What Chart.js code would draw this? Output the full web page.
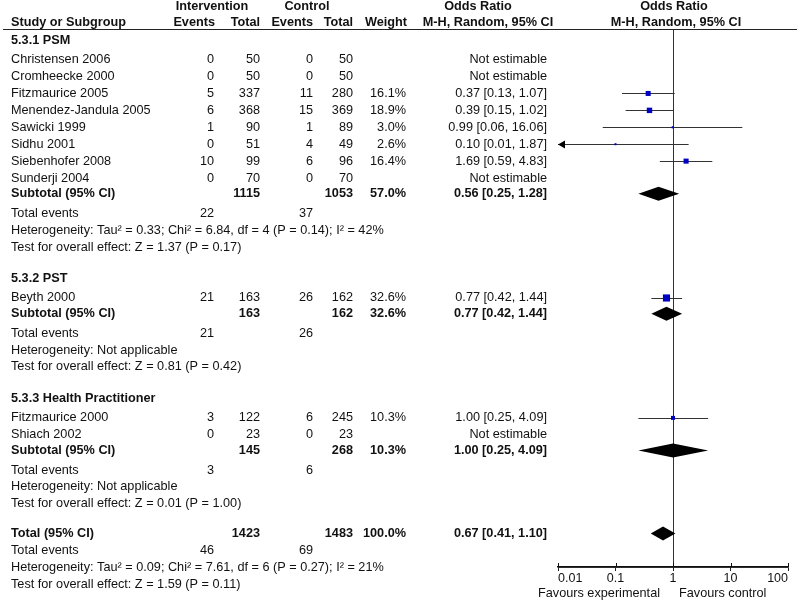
<!DOCTYPE html>
<html>
<head>
<meta charset="utf-8">
<script src="https://cdn.jsdelivr.net/npm/chart.js@4/dist/chart.umd.min.js"></script>
<style>
  html, body { margin: 0; padding: 0; background: #fff; }
  #wrap { width: 800px; height: 600px; }
</style>
</head>
<body>
<div id="wrap"><canvas id="forest" width="800" height="600"></canvas></div>
<script>
// --- dados dos estudos ---
const groupNames = ['5.3.1 PSM', '5.3.2 PST', '5.3.3 Health Practitioner'];
const studyNames = ['Christensen 2006', 'Cromheecke 2000', 'Fitzmaurice 2005', 'Menendez-Jandula 2005',
  'Sawicki 1999', 'Sidhu 2001', 'Siebenhofer 2008', 'Sunderji 2004', 'Beyth 2000',
  'Fitzmaurice 2000', 'Shiach 2002'];
const studyGroup = [0, 0, 0, 0, 0, 0, 0, 0, 1, 2, 2];
const expEvents = [0, 0, 5, 6, 1, 0, 10, 0, 21, 3, 0];
const expTotal = [50, 50, 337, 368, 90, 51, 99, 70, 163, 122, 23];
const ctlEvents = [0, 0, 11, 15, 1, 4, 6, 0, 26, 6, 0];
const ctlTotal = [50, 50, 280, 369, 89, 49, 96, 70, 162, 245, 23];
const weights = [null, null, 16.1, 18.9, 3.0, 2.6, 16.4, null, 32.6, 10.3, null];
const orEst = [null, null, 0.37, 0.39, 0.99, 0.10, 1.69, null, 0.77, 1.00, null];
const orLow = [null, null, 0.13, 0.15, 0.06, 0.01, 0.59, null, 0.42, 0.25, null];
const orHigh = [null, null, 1.07, 1.02, 16.06, 1.87, 4.83, null, 1.44, 4.09, null];

// --- subtotais ---
const subExpTotal = [1115, 163, 145];
const subCtlTotal = [1053, 162, 268];
const subExpEvents = [22, 21, 3];
const subCtlEvents = [37, 26, 6];
const subWeight = [57.0, 32.6, 10.3];
const subEst = [0.56, 0.77, 1.00];
const subLow = [0.25, 0.42, 0.25];
const subHigh = [1.28, 1.44, 4.09];
const subHet = ['Tau² = 0.33; Chi² = 6.84, df = 4 (P = 0.14); I² = 42%', 'Not applicable', 'Not applicable'];
const subTest = ['Z = 1.37 (P = 0.17)', 'Z = 0.81 (P = 0.42)', 'Z = 0.01 (P = 1.00)'];

// --- total geral ---
const totalCounts = [1423, 1483];
const totalEvents = [46, 69];
const totalWeight = 100.0;
const totalOR = [0.67, 0.41, 1.10];
const totalHet = 'Tau² = 0.09; Chi² = 7.61, df = 6 (P = 0.27); I² = 21%';
const totalTest = 'Z = 1.59 (P = 0.11)';

const tickValues = [0.01, 0.1, 1, 10, 100];
const favourLabels = ['Favours experimental', 'Favours control'];

// --- monta as linhas da tabela (posição em "linhas") ---
const rows = [];
let cursor = 0;
function addRow(kind, gap, extra) {
  cursor += gap;
  rows.push(Object.assign({ kind: kind, y: cursor }, extra));
}
groupNames.forEach((g, gi) => {
  addRow('group', gi === 0 ? 0 : 1.85, { label: g });
  studyNames.forEach((s, i) => {
    if (studyGroup[i] !== gi) return;
    const first = !rows.some(r => r.kind === 'study' && studyGroup[r.i] === gi);
    addRow('study', first ? 1.16 : 1.0, { i: i });
  });
  addRow('subtotal', 0.93, {
    label: 'Subtotal (95% CI)', nE: subExpTotal[gi], nC: subCtlTotal[gi], w: subWeight[gi],
    est: subEst[gi], lo: subLow[gi], hi: subHigh[gi]
  });
  addRow('events', 1.15, { e: subExpEvents[gi], c: subCtlEvents[gi] });
  addRow('text', 1, { label: 'Heterogeneity: ' + subHet[gi] });
  addRow('text', 1, { label: 'Test for overall effect: ' + subTest[gi] });
});
addRow('subtotal', 1.75, {
  label: 'Total (95% CI)', nE: totalCounts[0], nC: totalCounts[1], w: totalWeight,
  est: totalOR[0], lo: totalOR[1], hi: totalOR[2]
});
addRow('events', 1.0, { e: totalEvents[0], c: totalEvents[1] });
addRow('text', 1, { label: 'Heterogeneity: ' + totalHet });
addRow('text', 1, { label: 'Test for overall effect: ' + totalTest });

const studyRowY = {};
rows.forEach(r => { if (r.kind === 'study') studyRowY[r.i] = r.y; });

// pontos (quadrados) só dos estudos estimáveis
const points = [];
const radii = [];
studyNames.forEach((s, i) => {
  if (orEst[i] === null) return;
  points.push({ x: orEst[i], y: studyRowY[i] });
  radii.push(1.25 * Math.sqrt(weights[i]) / Math.SQRT2);
});

const FONT = '"Liberation Sans", Arial, sans-serif';
const SIZE = 12.7;
const fmt2 = v => v.toFixed(2);
const orText = (e, l, h) => `${fmt2(e)} [${fmt2(l)}, ${fmt2(h)}]`;

// colunas da tabela (borda direita dos números)
const COL = { label: 11, eE: 214, eT: 260, cE: 313, cT: 353, w: 406, or: 547 };

const forestPlugin = {
  id: 'forest',
  beforeDatasetsDraw(chart) {
    const { ctx, chartArea, scales } = chart;
    const xs = scales.x, ys = scales.y;
    ctx.save();
    // linha vertical de nenhum efeito
    const x1 = Math.round(xs.getPixelForValue(1)) + 0.5;
    ctx.strokeStyle = '#333';
    ctx.lineWidth = 1;
    ctx.beginPath();
    ctx.moveTo(x1, chartArea.top);
    ctx.lineTo(x1, chartArea.bottom);
    ctx.stroke();

    // intervalos de confiança
    ctx.strokeStyle = '#333';
    studyNames.forEach((s, i) => {
      if (orEst[i] === null) return;
      const y = Math.round(ys.getPixelForValue(studyRowY[i])) + 0.5;
      const clipped = orLow[i] <= xs.min;
      const a = xs.getPixelForValue(Math.max(orLow[i], xs.min));
      const b = xs.getPixelForValue(Math.min(orHigh[i], xs.max));
      ctx.beginPath();
      ctx.moveTo(a, y);
      ctx.lineTo(b, y);
      ctx.stroke();
      if (clipped) {
        ctx.fillStyle = '#000';
        ctx.beginPath();
        ctx.moveTo(a, y);
        ctx.lineTo(a + 7, y - 4);
        ctx.lineTo(a + 7, y + 4);
        ctx.closePath();
        ctx.fill();
      }
    });

    // losangos dos subtotais
    ctx.fillStyle = '#000';
    rows.forEach(r => {
      if (r.kind !== 'subtotal') return;
      const y = ys.getPixelForValue(r.y);
      const a = xs.getPixelForValue(r.lo), m = xs.getPixelForValue(r.est), b = xs.getPixelForValue(r.hi);
      ctx.beginPath();
      ctx.moveTo(a, y);
      ctx.lineTo(m, y - 7);
      ctx.lineTo(b, y);
      ctx.lineTo(m, y + 7);
      ctx.closePath();
      ctx.fill();
    });
    ctx.restore();
  },
  afterDraw(chart) {
    const { ctx, chartArea, scales } = chart;
    const xs = scales.x, ys = scales.y;
    ctx.save();
    ctx.fillStyle = '#111';
    ctx.textBaseline = 'middle';
    const put = (t, x, y, align, bold) => {
      ctx.font = `${bold ? 'bold ' : ''}${SIZE}px ${FONT}`;
      ctx.textAlign = align;
      ctx.fillText(t, x, y);
    };
    const xMid = xs.getPixelForValue(1);

    // cabeçalho
    put('Intervention', 212, 6, 'center', true);
    put('Control', 307, 6, 'center', true);
    put('Odds Ratio', 478, 6, 'center', true);
    put('Odds Ratio', xMid + 1, 6, 'center', true);
    put('Study or Subgroup', COL.label, 22, 'left', true);
    put('Events', COL.eE + 1, 22, 'right', true);
    put('Total', COL.eT, 22, 'right', true);
    put('Events', COL.cE, 22, 'right', true);
    put('Total', COL.cT, 22, 'right', true);
    put('Weight', COL.w + 1, 22, 'right', true);
    put('M-H, Random, 95% CI', 488, 22, 'center', true);
    put('M-H, Random, 95% CI', xMid + 3, 22, 'center', true);

    ctx.strokeStyle = '#222';
    ctx.lineWidth = 1.2;
    ctx.beginPath();
    ctx.moveTo(3, 29.5);
    ctx.lineTo(797, 29.5);
    ctx.stroke();

    // linhas da tabela
    rows.forEach(r => {
      const y = ys.getPixelForValue(r.y);
      if (r.kind === 'group') {
        put(r.label, COL.label, y, 'left', true);
      } else if (r.kind === 'study') {
        const i = r.i;
        put(studyNames[i], COL.label, y, 'left', false);
        put(String(expEvents[i]), COL.eE, y, 'right', false);
        put(String(expTotal[i]), COL.eT, y, 'right', false);
        put(String(ctlEvents[i]), COL.cE, y, 'right', false);
        put(String(ctlTotal[i]), COL.cT, y, 'right', false);
        if (weights[i] !== null) put(weights[i].toFixed(1) + '%', COL.w, y, 'right', false);
        put(orEst[i] === null ? 'Not estimable' : orText(orEst[i], orLow[i], orHigh[i]), COL.or, y, 'right', false);
      } else if (r.kind === 'subtotal') {
        put(r.label, COL.label, y, 'left', true);
        put(String(r.nE), COL.eT, y, 'right', true);
        put(String(r.nC), COL.cT, y, 'right', true);
        put(r.w.toFixed(1) + '%', COL.w, y, 'right', true);
        put(orText(r.est, r.lo, r.hi), COL.or, y, 'right', true);
      } else if (r.kind === 'events') {
        put('Total events', COL.label, y, 'left', false);
        put(String(r.e), COL.eE, y, 'right', false);
        put(String(r.c), COL.cE, y, 'right', false);
      } else {
        put(r.label, COL.label, y, 'left', false);
      }
    });

    // eixo x: linha e ticks para cima (o Chart.js só desenha para baixo)
    const yAxis = chartArea.bottom;
    ctx.strokeStyle = '#111';
    ctx.lineWidth = 1.5;
    ctx.beginPath();
    ctx.moveTo(chartArea.left, yAxis);
    ctx.lineTo(chartArea.right, yAxis);
    ctx.stroke();
    ctx.lineWidth = 1;
    xs.ticks.forEach((t, k) => {
      const px = Math.round(xs.getPixelForTick(k)) + 0.5;
      ctx.beginPath();
      ctx.moveTo(px, yAxis);
      ctx.lineTo(px, yAxis - 4);
      ctx.stroke();
    });

    // rótulos "Favours"
    put(favourLabels[0], xMid - 13, 593, 'right', false);
    put(favourLabels[1], xMid + 6, 593, 'left', false);
    ctx.restore();
  }
};

const ROW_PX = 16.9;
const TOP = 29, BOTTOM = 566.5, FIRST_ROW = 40;
const yMin = -(FIRST_ROW - TOP) / ROW_PX;
const yMax = yMin + (BOTTOM - TOP) / ROW_PX;

new Chart(document.getElementById('forest'), {
  type: 'scatter',
  data: {
    datasets: [{
      data: points,
      pointStyle: 'rect',
      pointRadius: radii,
      pointHoverRadius: radii,
      backgroundColor: '#0000c0',
      borderWidth: 0
    }]
  },
  options: {
    responsive: false,
    animation: false,
    events: [],
    layout: { padding: { left: 558, right: 12, top: TOP, bottom: 14 } },
    plugins: { legend: { display: false }, tooltip: { enabled: false } },
    scales: {
      x: {
        type: 'logarithmic',
        min: 0.01,
        max: 100,
        afterBuildTicks: scale => { scale.ticks = tickValues.map(v => ({ value: v, major: true })); },
        border: { display: true, color: '#111', width: 1.5 },
        grid: { drawOnChartArea: false, drawTicks: true, tickLength: 4, color: '#222' },
        ticks: {
          align: 'inner',
          padding: 0,
          maxRotation: 0,
          autoSkip: false,
          color: '#111',
          font: { family: FONT, size: 12.5 },
          callback: v => String(v)
        }
      },
      y: {
        type: 'linear',
        display: false,
        reverse: true,
        min: yMin,
        max: yMax
      }
    }
  },
  plugins: [forestPlugin]
});
</script>
</body>
</html>
